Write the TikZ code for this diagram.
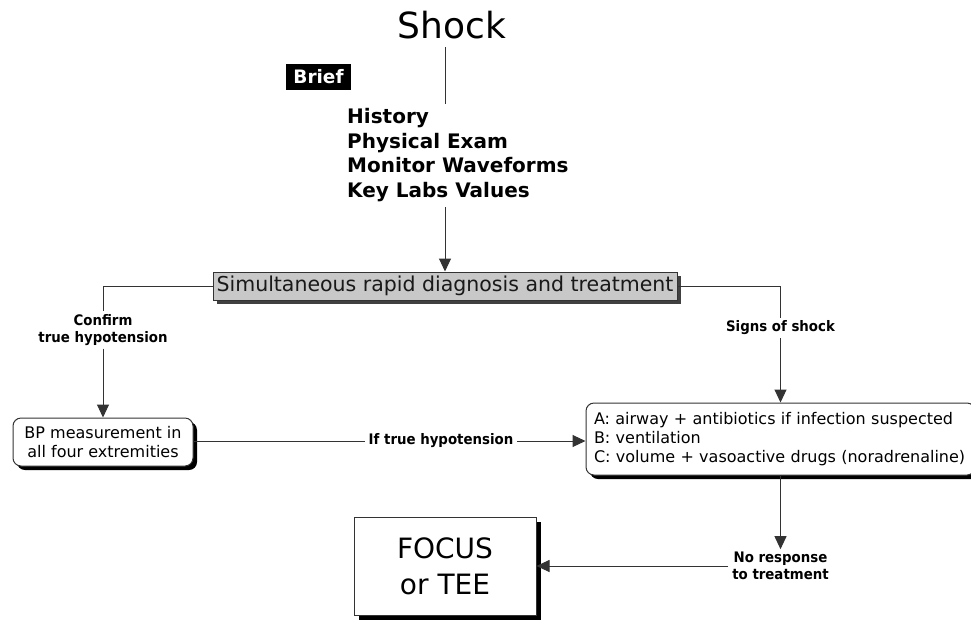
\documentclass[tikz,border=0pt]{standalone}
\usepackage{fontspec}
\setmainfont{DejaVu Sans}
\newfontfamily\labfont{DejaVu Sans}[FakeStretch=0.92]
\usetikzlibrary{arrows.meta,shadows}
\definecolor{ln}{HTML}{333333}
\definecolor{grayfill}{HTML}{C8C8C8}
\tikzset{
  conn/.style={draw=ln, line width=1pt},
  arr/.style={conn, -{Triangle[length=13pt,width=12pt]}},
  lab/.style={font=\labfont\fontsize{14.5}{16.5}\selectfont\bfseries, align=center,
    inner xsep=4pt, inner ysep=3pt, fill=white},
  roundbox/.style={draw=ln, line width=1pt, fill=white, rounded corners=8pt,
    drop shadow={shadow xshift=4pt, shadow yshift=-4pt, opacity=1, fill=black}},
  sqbox/.style={draw=ln, line width=1pt, fill=white,
    drop shadow={shadow xshift=5pt, shadow yshift=-5pt, opacity=1, fill=black}},
  graybox/.style={draw=ln, line width=1pt, fill=grayfill,
    drop shadow={shadow xshift=4pt, shadow yshift=-4pt, opacity=1, fill=black!75}},
}
\begin{document}
\begin{tikzpicture}[x=1pt, y=-1pt]
\clip (0,0) rectangle (971,619);
\fill[white] (0,0) rectangle (971,619);

% title
\node (shock) at (452,25) {\fontsize{36}{40}\selectfont Shock};
\coordinate (trunk) at (445,104);
\draw[conn] (trunk |- 0,47) -- (trunk);

% brief tag
\node[fill=black, text=white, font=\fontsize{18.5}{20}\selectfont\bfseries,
      minimum width=65pt, minimum height=26pt, inner sep=0pt] (brief) at (318.5,77) {Brief};

% list
\node[anchor=north west, align=left, inner sep=0pt,
      font=\fontsize{20}{24.7}\selectfont\bfseries] (list) at (347,108)
  {History\\Physical Exam\\Monitor Waveforms\\Key Labs Values};

% central gray box
\node[graybox, minimum width=464pt, minimum height=28pt, inner sep=0pt,
      font=\fontsize{20.5}{22}\selectfont, text=black!90] (gray) at (445,286)
  {Simultaneous rapid diagnosis and treatment};
\draw[arr] (trunk |- 0,207) -- (gray.north);

% BP box
\node[roundbox, minimum width=180pt, minimum height=48pt, inner sep=0pt, align=center,
      font=\fontsize{16}{19}\selectfont] (bp) at (103,442)
  {BP measurement in\\all four extremities};

% ABC box
\node[roundbox, minimum width=389pt, minimum height=72pt, inner xsep=8pt, inner ysep=0pt,
      text width=373pt, align=left, font=\fontsize{16}{19}\selectfont] (abc) at (780.5,439)
  {A: airway + antibiotics if infection suspected\\B: ventilation\\C: volume + vasoactive drugs (noradrenaline)};

% FOCUS box
\node[sqbox, minimum width=182pt, minimum height=98pt, inner sep=0pt, align=center,
      font=\fontsize{28}{36}\selectfont] (focus) at (445,566)
  {FOCUS\\or TEE};

% labels
\node[lab] (confirm) at (103,330) {Confirm\\true hypotension};
\node[lab] (signs) at (780.5,328) {Signs of shock};
\node[lab] (iftrue) at (441,441) {If true hypotension};
\node[lab] (noresp) at (780.5,566) {No response\\to treatment};

% connectors
\draw[conn] (gray.west) -| (confirm.north);
\draw[arr] (confirm.south) -- (bp.north);
\draw[conn] (gray.east) -| (signs.north);
\draw[arr] (signs.south) -- (abc.north);
\draw[conn] (bp.east |- iftrue.west) -- (iftrue.west);
\draw[arr] (iftrue.east) -- (abc.west |- iftrue.east);
\draw[arr] (abc.south) -- (noresp.north);
\draw[arr] (noresp.west) -- (focus.east);
\end{tikzpicture}
\end{document}
